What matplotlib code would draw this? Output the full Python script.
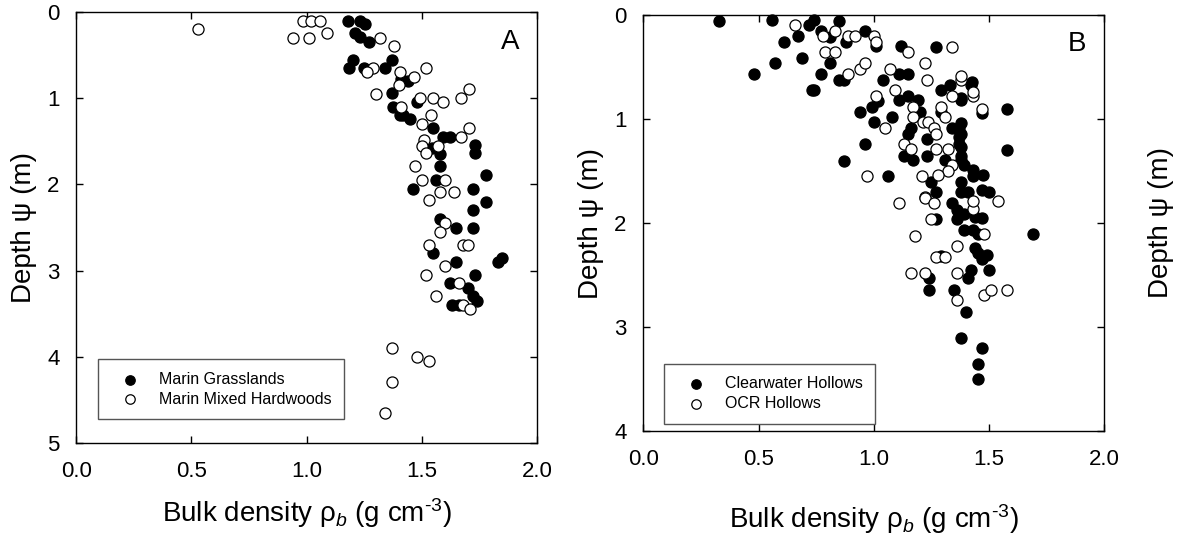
import numpy as np
import matplotlib
matplotlib.use("Agg")
import matplotlib.pyplot as plt

plt.rcParams['font.family'] = ['Liberation Sans', 'DejaVu Sans']
plt.rcParams['mathtext.fontset'] = 'custom'
plt.rcParams['mathtext.rm'] = 'Liberation Sans'
plt.rcParams['mathtext.it'] = 'Liberation Sans:italic'

# Panel A - Marin (bulk density g/cm3, depth m)
grass_rho = [1.18, 1.23, 1.255, 1.21, 1.23, 1.27, 1.20, 1.185, 1.25, 1.34, 1.37,
             1.41, 1.44, 1.37, 1.375, 1.48, 1.405, 1.42, 1.45, 1.55, 1.59, 1.62,
             1.73, 1.73, 1.545, 1.58, 1.58, 1.78, 1.56, 1.46, 1.72, 1.78, 1.72,
             1.58, 1.65, 1.72, 1.55, 1.85, 1.83, 1.65, 1.73, 1.62, 1.70, 1.72,
             1.74, 1.63, 1.66]
grass_z = [0.10, 0.10, 0.14, 0.24, 0.29, 0.35, 0.55, 0.65, 0.65, 0.65, 0.55,
           0.78, 0.80, 0.94, 1.10, 1.04, 1.19, 1.19, 1.24, 1.34, 1.45, 1.45,
           1.54, 1.64, 1.58, 1.65, 1.79, 1.89, 1.95, 2.05, 2.05, 2.20, 2.30,
           2.40, 2.50, 2.50, 2.80, 2.85, 2.90, 2.90, 3.05, 3.15, 3.20, 3.30,
           3.35, 3.40, 3.40]
hard_rho = [0.53, 0.985, 1.02, 1.06, 0.94, 1.01, 1.09, 1.32, 1.38, 1.29, 1.26,
            1.30, 1.405, 1.40, 1.465, 1.52, 1.49, 1.55, 1.59, 1.67, 1.705, 1.41,
            1.54, 1.50, 1.705, 1.67, 1.51, 1.50, 1.57, 1.52, 1.47, 1.50, 1.60,
            1.58, 1.64, 1.53, 1.60, 1.58, 1.53, 1.68, 1.70, 1.60, 1.52, 1.66,
            1.56, 1.68, 1.71, 1.37, 1.48, 1.53, 1.37, 1.34]
hard_z = [0.19, 0.10, 0.10, 0.10, 0.30, 0.30, 0.24, 0.30, 0.39, 0.65, 0.69,
          0.945, 0.69, 0.84, 0.75, 0.65, 1.00, 1.00, 1.04, 1.00, 0.89, 1.10,
          1.19, 1.30, 1.34, 1.45, 1.48, 1.55, 1.55, 1.64, 1.79, 1.95, 1.95,
          2.09, 2.09, 2.18, 2.45, 2.55, 2.70, 2.70, 2.70, 2.95, 3.05, 3.15,
          3.30, 3.40, 3.45, 3.90, 4.00, 4.05, 4.30, 4.65]

# Panel B - hollows
clear_rho = [0.33, 0.56, 0.74, 0.72, 0.85, 0.67, 0.61, 0.77, 0.81, 0.88, 0.96,
             1.01, 0.57, 0.48, 0.69, 0.81, 0.77, 0.85, 0.87, 0.73, 0.74, 1.12,
             1.27, 1.04, 1.11, 1.15, 0.94, 0.99, 1.02, 1.00, 1.08, 1.11, 1.15,
             1.19, 1.20, 1.16, 1.15, 1.23, 0.96, 0.87, 1.06, 1.13, 1.17, 1.23,
             1.29, 1.33, 1.38, 1.42, 1.29, 1.34, 1.37, 1.37, 1.37, 1.38, 1.31,
             1.39, 1.43, 1.25, 1.38, 1.27, 1.38, 1.41, 1.425, 1.38, 1.47, 1.58,
             1.58, 1.38, 1.38, 1.38, 1.38, 1.43, 1.475, 1.47, 1.50, 1.39, 1.44,
             1.47, 1.45, 1.69, 1.44, 1.45, 1.47, 1.49, 1.42, 1.50, 1.40, 1.38,
             1.47, 1.45, 1.45, 1.34, 1.36, 1.36, 1.27, 1.39, 1.43, 1.29, 1.41,
             1.24, 1.24, 1.35]
clear_z = [0.055, 0.05, 0.05, 0.10, 0.055, 0.20, 0.26, 0.15, 0.21, 0.26, 0.15,
           0.30, 0.46, 0.57, 0.41, 0.46, 0.57, 0.62, 0.62, 0.72, 0.72, 0.30,
           0.31, 0.62, 0.57, 0.57, 0.93, 0.88, 0.83, 1.03, 0.98, 0.82, 0.78,
           0.82, 0.93, 1.09, 1.14, 1.19, 1.24, 1.40, 1.55, 1.35, 1.39, 1.35,
           0.72, 0.67, 0.82, 0.67, 0.93, 1.09, 1.09, 1.17, 1.24, 1.35, 1.39,
           1.44, 1.55, 1.60, 1.60, 1.70, 1.70, 1.70, 0.64, 0.80, 0.94, 0.90,
           1.30, 1.04, 1.14, 1.27, 1.39, 1.49, 1.54, 1.68, 1.70, 1.91, 1.94,
           1.95, 2.10, 2.10, 2.24, 2.29, 2.34, 2.31, 2.45, 2.45, 2.85, 3.10,
           3.20, 3.35, 3.50, 1.81, 1.87, 1.96, 1.96, 2.07, 2.07, 2.32, 2.53,
           2.53, 2.64, 2.64]
ocr_rho = [0.66, 0.78, 0.83, 0.89, 0.92, 1.00, 1.01, 0.79, 0.83, 0.89, 0.94,
           0.96, 1.15, 1.34, 1.07, 1.22, 1.23, 1.09, 1.01, 1.17, 1.17, 1.05,
           1.29, 1.31, 1.34, 1.38, 1.43, 1.215, 1.235, 1.26, 1.27, 1.13, 1.16,
           1.27, 1.32, 1.34, 1.32, 1.28, 1.21, 0.97, 1.22, 1.11, 1.22, 1.26,
           1.25, 1.43, 1.18, 1.36, 1.27, 1.31, 1.16, 1.22, 1.36, 1.36, 1.54,
           1.43, 1.48, 1.47, 1.43, 1.38, 1.48, 1.51, 1.58]
ocr_z = [0.10, 0.20, 0.15, 0.20, 0.20, 0.20, 0.26, 0.36, 0.36, 0.57, 0.52,
         0.46, 0.36, 0.31, 0.52, 0.46, 0.62, 0.72, 0.78, 0.88, 0.98, 1.09,
         0.88, 0.98, 0.78, 0.62, 0.78, 1.03, 1.03, 1.09, 1.14, 1.24, 1.29,
         1.29, 1.29, 1.44, 1.50, 1.54, 1.55, 1.55, 1.75, 1.81, 1.76, 1.81,
         1.96, 1.86, 2.12, 2.22, 2.33, 2.33, 2.48, 2.48, 2.48, 2.74, 1.79,
         1.79, 2.10, 0.90, 0.74, 0.59, 2.69, 2.64, 2.64]

xticks = [0.0, 0.5, 1.0, 1.5, 2.0]

fig = plt.figure(figsize=(11.85, 5.40), dpi=100)
axA = fig.add_axes([0.0644, 0.1802, 0.3888, 0.797])
axB = fig.add_axes([0.5429, 0.2013, 0.389, 0.7709])


def style(ax, ymax, letter, lab_y):
    ax.set_xlim(0, 2.0)
    ax.set_ylim(ymax, 0)
    ax.set_xticks(xticks)
    ax.set_xticklabels(['%.1f' % v for v in xticks])
    ax.set_yticks(range(ymax + 1))
    ax.tick_params(direction='in', top=True, right=True, length=5, width=1,
                   labelsize=16, labeltop=False, labelright=False)
    ax.tick_params(axis='x', pad=13)
    ax.tick_params(axis='y', pad=12)
    for s in ax.spines.values():
        s.set_linewidth(1.0)
    ax.set_xlabel(r'Bulk density $\mathrm{\rho}_{b}$ (g cm$^{\text{-3}}$)',
                  fontsize=20)
    ax.xaxis.set_label_coords(0.5, lab_y)
    ax.set_ylabel('Depth \u03c8 (m)', fontsize=20)
    ax.yaxis.set_label_coords(-0.085, 0.5)
    ax.text(0.941, 0.93, letter, transform=ax.transAxes, fontsize=20,
            ha='center', va='center')


kw = dict(s=64, linewidths=0.9, edgecolors='black', zorder=3, clip_on=False)
axA.scatter(grass_rho, grass_z, c='black', label='Marin Grasslands', **kw)
axA.scatter(hard_rho, hard_z, c='white', label='Marin Mixed Hardwoods', **kw)
axB.scatter(clear_rho, clear_z, c='black', label='Clearwater Hollows', **kw)
axB.scatter(ocr_rho, ocr_z, c='white', label='OCR Hollows', **kw)

style(axA, 5, 'A', -0.125)
style(axB, 4, 'B', -0.17)

leg_kw = dict(loc='lower left', fontsize=11.5, fancybox=False, framealpha=1,
              edgecolor='#555555', borderpad=0.8, handlelength=2.4,
              handletextpad=0.6, labelspacing=0.3, borderaxespad=0,
              markerscale=0.85)
lA = axA.legend(bbox_to_anchor=(0.047, 0.054), **leg_kw)
lB = axB.legend(bbox_to_anchor=(0.045, 0.0175), **leg_kw)
for l in (lA, lB):
    l.get_frame().set_linewidth(1.0)

fig.text(1161 / 1185, 1 - 223 / 540, 'Depth \u03c8 (m)', rotation=90,
         fontsize=20, ha='center', va='center')

fig.savefig('out.png', dpi=100)
